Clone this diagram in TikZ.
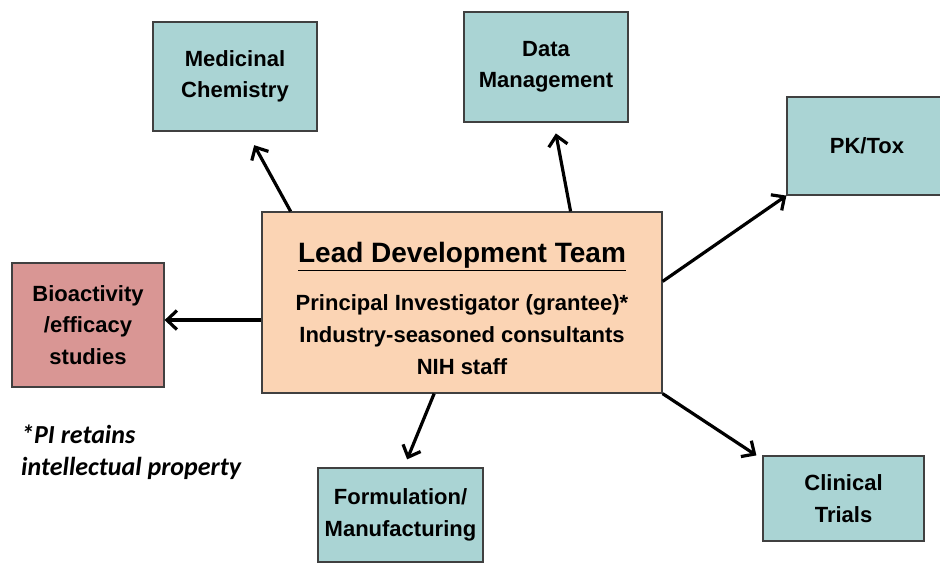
\documentclass[tikz,border=0pt]{standalone}
\usepackage{fontspec}
\setmainfont{Liberation Sans}
\newfontfamily\notefont{Carlito}
\definecolor{leadpeach}{RGB}{251,212,180}
\definecolor{roleteal}{RGB}{170,212,212}
\definecolor{biored}{RGB}{217,150,148}
\definecolor{edgegray}{RGB}{64,64,64}
\usetikzlibrary{arrows.meta,calc}

\begin{document}
\begin{tikzpicture}[x=1pt,y=-1pt,
  rolebox/.style={draw=edgegray, line width=1.2pt, align=center, inner sep=0pt,
    font=\bfseries\fontsize{22}{31.5}\selectfont},
  link/.style={line width=3.2pt, -{Straight Barb[length=10pt,width=19pt]}}]
  \useasboundingbox (0,0) rectangle (940,564);
  \node[rolebox, fill=leadpeach, minimum width=400pt, minimum height=181pt,
    font=\bfseries\fontsize{22}{32}\selectfont] (lead) at (462,302.5)
    {{\fontsize{28}{34}\selectfont\rule{0pt}{33pt}\underline{Lead Development Team}}\\[16pt]
     Principal Investigator (grantee)*\\
     Industry-seasoned consultants\\
     NIH staff};
  \foreach \id/\x/\y/\w/\h/\c/\txt in {%
    medchem/235/76.5/164/109/roleteal/{Medicinal\\Chemistry},%
    datamgmt/546/67/164/110/roleteal/{Data\\Management},%
    pktox/867/146/160/98/roleteal/{PK/Tox},%
    clinical/843.5/498.5/161/85/roleteal/{Clinical\\Trials},%
    formul/400.5/515/165/94/roleteal/{Formulation/\\Manufacturing},%
    bio/88/325/152/124/biored/{Bioactivity\\/efficacy\\studies}%
  }{
    \node[rolebox, fill=\c, minimum width=\w pt, minimum height=\h pt] (\id) at (\x,\y) {\txt};
  }
  \node[anchor=north west, align=left, inner sep=0pt,
    font=\notefont\bfseries\itshape\fontsize{26}{32}\selectfont] (note) at (21,425)
    {*PI retains\\intellectual property};
  % arrows out of the lead team
  \draw[link, shorten >=15.5pt] (lead.152.9) -- (medchem.-78.3);
  \draw[link, shorten >=11pt] (lead.40) -- (datamgmt.-82.8);
  \draw[link] (lead.6.4) -- (pktox.south west);
  \draw[link] (lead.south east) -- ([xshift=-6pt]clinical.north west);
  \draw[link] (lead.185) -- (lead.185 -| bio.east);
  \draw[link, shorten >=8.7pt] (lead.253.4) -- (formul.86.6);
\end{tikzpicture}
\end{document}
